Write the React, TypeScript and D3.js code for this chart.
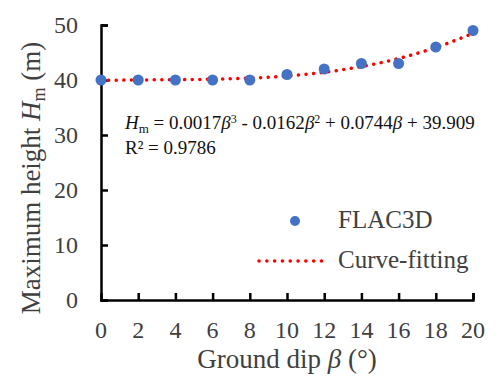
import React, { useEffect, useRef } from "react";
import * as d3 from "d3";

// FLAC3D results: ground dip (deg) vs maximum height (m)
const dips = [0, 2, 4, 6, 8, 10, 12, 14, 16, 18, 20];
const heights = [40, 40, 40, 40, 40, 41, 42, 43, 43, 46, 49];
// cubic fit coefficients [b3, b2, b1, b0]
const fitCoef = [0.0017, -0.0162, 0.0744, 39.909];
const xTicks = [0, 2, 4, 6, 8, 10, 12, 14, 16, 18, 20];
const yTicks = [0, 10, 20, 30, 40, 50];

const W = 499;
const H = 387;
const FONT = "'Liberation Serif', 'Times New Roman', serif";
const GREY = "#404040";

export default function App() {
  const ref = useRef<SVGSVGElement>(null);

  useEffect(() => {
    const svg = d3.select(ref.current);
    svg.selectAll("*").remove();

    const x = d3.scaleLinear().domain([0, 20]).range([101, 473]);
    const y = d3.scaleLinear().domain([0, 50]).range([300, 25]);

    const g = svg.append("g");

    // axes
    const yAxis = g.append("g").attr("transform", "translate(" + x(0) + ",0)")
      .call(d3.axisRight(y).tickValues(yTicks).tickSize(7).tickFormat(() => ""));
    const xAxis = g.append("g").attr("transform", "translate(0," + y(0) + ")")
      .call(d3.axisTop(x).tickValues(xTicks).tickSize(7).tickFormat(() => ""));
    [yAxis, xAxis].forEach((a) => {
      a.selectAll("path").attr("stroke", "#000").attr("stroke-width", 2.5);
      a.selectAll("line").attr("stroke", "#000").attr("stroke-width", 2.5);
    });
    xAxis.select(".tick").remove();

    // tick labels
    g.selectAll(".ylab").data(yTicks).enter().append("text")
      .attr("x", 78).attr("y", (d) => y(d) + 8)
      .attr("text-anchor", "end").attr("font-family", FONT)
      .attr("font-size", 24).attr("fill", GREY).text((d) => d);
    g.selectAll(".xlab").data(xTicks).enter().append("text")
      .attr("x", (d) => x(d)).attr("y", 338)
      .attr("text-anchor", "middle").attr("font-family", FONT)
      .attr("font-size", 24).attr("fill", GREY).text((d) => d);

    // axis titles
    const xt = g.append("text").attr("x", 287).attr("y", 368)
      .attr("text-anchor", "middle").attr("font-family", FONT)
      .attr("font-size", 27).attr("fill", GREY);
    xt.append("tspan").text("Ground dip ");
    xt.append("tspan").attr("font-style", "italic").text("β");
    xt.append("tspan").text(" (°)");

    const yt = g.append("text").attr("transform", "translate(40,178) rotate(-90)")
      .attr("text-anchor", "middle").attr("font-family", FONT)
      .attr("font-size", 27).attr("fill", GREY);
    yt.append("tspan").text("Maximum height ");
    yt.append("tspan").attr("font-style", "italic").text("H");
    yt.append("tspan").attr("font-size", 18).attr("dy", 5).text("m");
    yt.append("tspan").attr("dy", -5).text(" (m)");

    // fitted curve
    const fit = (b: number) =>
      fitCoef[0] * b ** 3 + fitCoef[1] * b ** 2 + fitCoef[2] * b + fitCoef[3];
    const curve = d3.range(0, 20.01, 0.25);
    g.append("path")
      .datum(curve)
      .attr("fill", "none").attr("stroke", "#FF0000").attr("stroke-width", 3.5)
      .attr("stroke-linecap", "round").attr("stroke-dasharray", "0.1 7.5")
      .attr("d", d3.line<number>().x((d) => x(d)).y((d) => y(fit(d))));

    // points
    g.selectAll(".pt").data(dips).enter().append("circle")
      .attr("cx", (d) => x(d)).attr("cy", (d, i) => y(heights[i]))
      .attr("r", 5.5).attr("fill", "#4472C4");

    // equation
    const eq = g.append("text").attr("x", 125).attr("y", 129)
      .attr("font-family", FONT).attr("font-size", 19).attr("fill", "#111");
    eq.append("tspan").attr("font-style", "italic").text("H");
    eq.append("tspan").attr("font-size", 13).attr("dy", 4).text("m");
    eq.append("tspan").attr("dy", -4).text(" = 0.0017");
    eq.append("tspan").attr("font-style", "italic").text("β");
    eq.append("tspan").attr("font-size", 12).attr("dy", -6).text("3");
    eq.append("tspan").attr("dy", 6).text(" - 0.0162");
    eq.append("tspan").attr("font-style", "italic").text("β");
    eq.append("tspan").attr("font-size", 12).attr("dy", -6).text("2");
    eq.append("tspan").attr("dy", 6).text(" + 0.0744");
    eq.append("tspan").attr("font-style", "italic").text("β");
    eq.append("tspan").text(" + 39.909");
    g.append("text").attr("x", 125).attr("y", 154)
      .attr("font-family", FONT).attr("font-size", 19).attr("fill", "#111")
      .text("R² = 0.9786");

    // legend
    g.append("circle").attr("cx", 295).attr("cy", 221).attr("r", 5).attr("fill", "#4472C4");
    g.append("text").attr("x", 338).attr("y", 228).attr("font-family", FONT)
      .attr("font-size", 25).attr("fill", GREY).text("FLAC3D");
    g.append("line").attr("x1", 259).attr("x2", 329).attr("y1", 261).attr("y2", 261)
      .attr("stroke", "#FF0000").attr("stroke-width", 3.5)
      .attr("stroke-linecap", "round").attr("stroke-dasharray", "0.1 7.7");
    g.append("text").attr("x", 338).attr("y", 268).attr("font-family", FONT)
      .attr("font-size", 25).attr("fill", GREY).text("Curve-fitting");
  }, []);

  return (
    <svg ref={ref} width={W} height={H}
      style={{ position: "absolute", left: 0, top: 0, background: "#fff" }} />
  );
}
